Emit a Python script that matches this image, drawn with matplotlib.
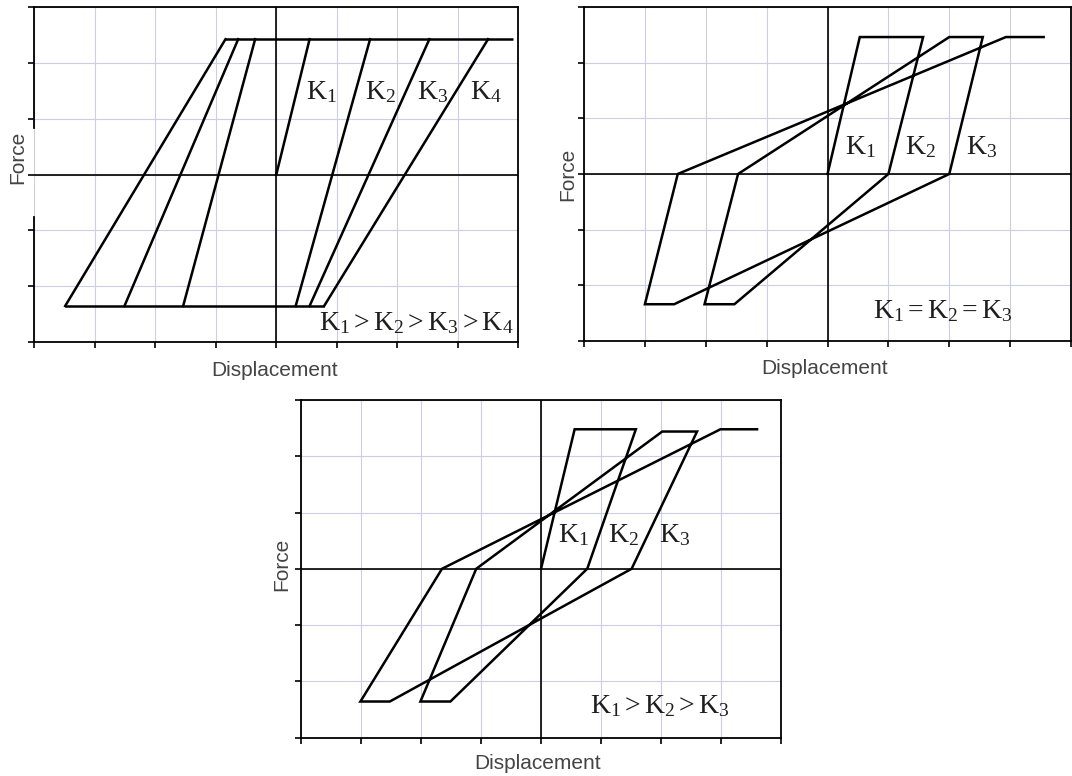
import numpy as np
import matplotlib.pyplot as plt

plt.rcParams['font.family'] = ['Liberation Sans', 'DejaVu Sans']
plt.rcParams['mathtext.fontset'] = 'custom'
plt.rcParams['mathtext.rm'] = 'Liberation Serif'
plt.rcParams['mathtext.it'] = 'Liberation Serif:italic'
plt.rcParams['mathtext.default'] = 'rm'

# --- (a) four initial stiffnesses, common yield plateaus ---
a_fy_top = 2.43
a_fy_bot = -2.36
a_top_x = [-0.84, 3.92]
a_bot_x = [-3.49, 0.79]
# loading branches (bottom -> top), first one starts at the origin
a_load_x0 = [0.0, 0.32, 0.55, 0.79]
a_load_y0 = [0.0, a_fy_bot, a_fy_bot, a_fy_bot]
a_load_x1 = [0.55, 1.55, 2.53, 3.50]
# unloading branches (top -> bottom)
a_unload_x0 = [-0.84, -0.63, -0.35]
a_unload_x1 = [-3.49, -2.51, -1.54]

# --- (b) equal stiffness K1 = K2 = K3 ---
b_disp = [0, 0.53, 1.57, 1.0, -1.53, -2.02, -1.47, 2.0, 2.55, 2.0,
          -2.52, -3.0, -2.46, 2.93, 3.55]
b_force = [0, 2.46, 2.46, 0, -2.34, -2.34, 0, 2.46, 2.46, 0,
           -2.34, -2.34, 0, 2.46, 2.46]

# --- (c) decreasing stiffness K1 > K2 > K3 ---
c_disp = [0, 0.56, 1.58, 0.77, -1.51, -2.01, -1.08, 2.02, 2.60, 1.51,
          -2.52, -3.01, -1.65, 2.99, 3.60]
c_force = [0, 2.48, 2.48, 0, -2.36, -2.36, 0, 2.44, 2.44, 0,
           -2.36, -2.36, 0, 2.48, 2.48]

k_names = [r'$K_1$', r'$K_2$', r'$K_3$', r'$K_4$']

LW = 1.8
KFS = 20
TXT = '#1e1e1e'
LAB = '#444444'


def frame(ax, xlab_pos, ylab_pos):
    ax.set_xlim(-4, 4)
    ax.set_ylim(-3, 3)
    ax.set_xticks(np.arange(-4, 5))
    ax.set_yticks(np.arange(-3, 4))
    ax.set_xticklabels([])
    ax.set_yticklabels([])
    ax.grid(True, color='#cdcde6', lw=0.8)
    ax.set_axisbelow(True)
    ax.axhline(0, color='k', lw=1.2, zorder=2)
    ax.axvline(0, color='k', lw=1.2, zorder=2)
    ax.tick_params(length=4.5, width=1.2, direction='out', color='k')
    for s in ax.spines.values():
        s.set_linewidth(1.3)
    ax.set_xlabel('Displacement', fontsize=15, color=LAB)
    ax.set_ylabel('Force', fontsize=15, color=LAB)
    ax.xaxis.set_label_coords(*xlab_pos)
    ax.yaxis.set_label_coords(*ylab_pos)


fig = plt.figure(figsize=(10.72, 7.76), dpi=100)

# (a)
ax1 = fig.add_axes([0.0320, 0.5597, 0.4515, 0.4307])
frame(ax1, (0.496, -0.058), (-0.015, 0.55))
ax1.plot(a_top_x, [a_fy_top, a_fy_top], color='k', lw=LW, solid_capstyle='butt')
ax1.plot(a_bot_x, [a_fy_bot, a_fy_bot], color='k', lw=LW, solid_capstyle='butt')
for x0, y0, x1 in zip(a_load_x0, a_load_y0, a_load_x1):
    ax1.plot([x0, x1], [y0, a_fy_top], color='k', lw=LW)
for x0, x1 in zip(a_unload_x0, a_unload_x1):
    ax1.plot([x0, x1], [a_fy_top, a_fy_bot], color='k', lw=LW)
# break in the left spine behind the axis title
ax1.spines['left'].set_bounds(-3, -0.76)
ax1.axvline(-4, ymin=(0.84 + 3) / 6, ymax=1, color='k', lw=1.3, clip_on=False)
for name, x in zip(k_names, [0.49, 1.47, 2.33, 3.20]):
    ax1.text(x, 1.35, name, fontsize=KFS, color=TXT, va='baseline')
ax1.text(0.71, -2.80, r'$K_1 > K_2 > K_3 > K_4$', fontsize=KFS, color=TXT, va='baseline')

# (b)
ax2 = fig.add_axes([0.5448, 0.5606, 0.4543, 0.4304])
frame(ax2, (0.494, -0.054), (-0.013, 0.5))
ax2.plot(b_disp, b_force, color='k', lw=LW, solid_joinstyle='miter')
for name, x in zip(k_names[:3], [0.28, 1.27, 2.28]):
    ax2.text(x, 0.36, name, fontsize=KFS, color=TXT, va='baseline')
ax2.text(0.75, -2.59, r'$K_1 = K_2 = K_3$', fontsize=KFS, color=TXT, va='baseline')

# (c)
ax3 = fig.add_axes([0.2808, 0.0496, 0.4478, 0.4349])
frame(ax3, (0.492, -0.048), (-0.021, 0.514))
ax3.plot(c_disp, c_force, color='k', lw=LW, solid_joinstyle='miter')
for name, x in zip(k_names[:3], [0.28, 1.12, 1.97]):
    ax3.text(x, 0.48, name, fontsize=KFS, color=TXT, va='baseline')
ax3.text(0.81, -2.56, r'$K_1 > K_2 > K_3$', fontsize=KFS, color=TXT, va='baseline')

fig.savefig('out.png', dpi=100)
